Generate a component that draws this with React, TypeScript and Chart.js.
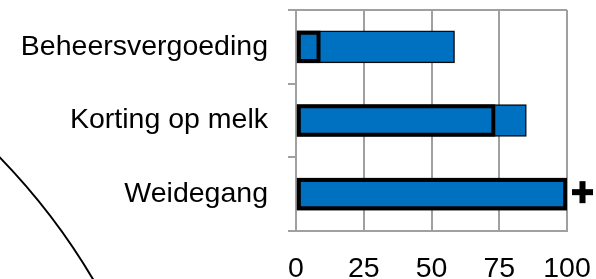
import React, { useEffect, useRef } from 'react';
import { Chart, registerables } from 'chart.js';

Chart.register(...registerables);

const categories = ['Beheersvergoeding', 'Korting op melk', 'Weidegang'];
const blueValues = [58.5, 85, 100];
const outlineValues = [9, 73.5, 100];
const markers = ['', '', '+'];
const xTickStep = 25;
const xMin = 0;
const xMax = 100;

const GRID = '#a0a0a0';
const FONT = "'Liberation Sans', Arial, sans-serif";

const noPad = (s: any) => {
  s.paddingTop = 0;
  s.paddingBottom = 0;
  s.paddingLeft = 0;
  s.paddingRight = 0;
};

export default function App() {
  const ref = useRef<HTMLCanvasElement>(null);

  useEffect(() => {
    document.body.style.margin = '0';
    const decor = {
      id: 'decor',
      afterDraw(chart: any) {
        const ctx = chart.ctx;
        const area = chart.chartArea;
        ctx.save();
        // bottom-left tick mark of the category axis
        ctx.strokeStyle = GRID;
        ctx.lineWidth = 2;
        ctx.beginPath();
        ctx.moveTo(area.left - 8, area.bottom);
        ctx.lineTo(area.left, area.bottom);
        ctx.stroke();
        // significance markers
        const meta = chart.getDatasetMeta(1);
        ctx.fillStyle = '#000';
        markers.forEach((m, i) => {
          if (m !== '+') return;
          const el = meta.data[i];
          const cx = el.x + 15.5;
          const cy = el.y - 2;
          ctx.fillRect(cx - 10.5, cy - 3, 21, 6);
          ctx.fillRect(cx - 3, cy - 11, 6, 22);
        });
        // arc of neighbouring figure
        ctx.strokeStyle = '#000';
        ctx.lineWidth = 2;
        ctx.beginPath();
        ctx.arc(-469, 612, 653, 0, Math.PI * 2);
        ctx.stroke();
        ctx.restore();
      },
    };

    const chart = new Chart(ref.current as HTMLCanvasElement, {
      type: 'bar',
      data: {
        labels: categories,
        datasets: [
          {
            label: 'outline',
            data: outlineValues,
            backgroundColor: 'rgba(0,0,0,0)',
            borderColor: '#000',
            borderWidth: 3.5,
            borderSkipped: false,
            grouped: false,
            order: 1,
            barThickness: 32,
          },
          {
            label: 'value',
            data: blueValues,
            backgroundColor: '#0070C0',
            borderColor: '#0a0a0a',
            borderWidth: 1.5,
            borderSkipped: false,
            grouped: false,
            order: 2,
            barThickness: 32,
          },
        ],
      } as any,
      options: {
        indexAxis: 'y',
        animation: false,
        responsive: false,
        layout: { padding: { top: 10, right: 29, left: 0, bottom: 0 } },
        plugins: { legend: { display: false }, tooltip: { enabled: false } },
        scales: {
          x: {
            min: xMin,
            max: xMax,
            grid: { color: GRID, lineWidth: 2, drawTicks: false },
            border: { color: GRID, width: 2 },
            ticks: { stepSize: xTickStep, color: '#000', font: { size: 28.5, family: FONT }, padding: 21 },
            afterFit: (s: any) => { s.height = 48; noPad(s); },
          },
          y: {
            grid: {
              drawOnChartArea: true,
              color: (c: any) => (c.index === 0 ? GRID : 'rgba(0,0,0,0)'),
              tickColor: GRID,
              tickLength: 8,
              lineWidth: 2,
            },
            border: { color: GRID, width: 2 },
            ticks: { color: '#000', font: { size: 28.5, family: FONT }, padding: 20 },
            afterFit: (s: any) => { s.width = 296; noPad(s); },
          },
        },
      } as any,
      plugins: [decor],
    });
    return () => chart.destroy();
  }, []);

  return (
    <div style={{ position: 'absolute', left: 0, top: 0, width: 596, height: 279 }}>
      <canvas ref={ref} width={596} height={279} />
    </div>
  );
}
